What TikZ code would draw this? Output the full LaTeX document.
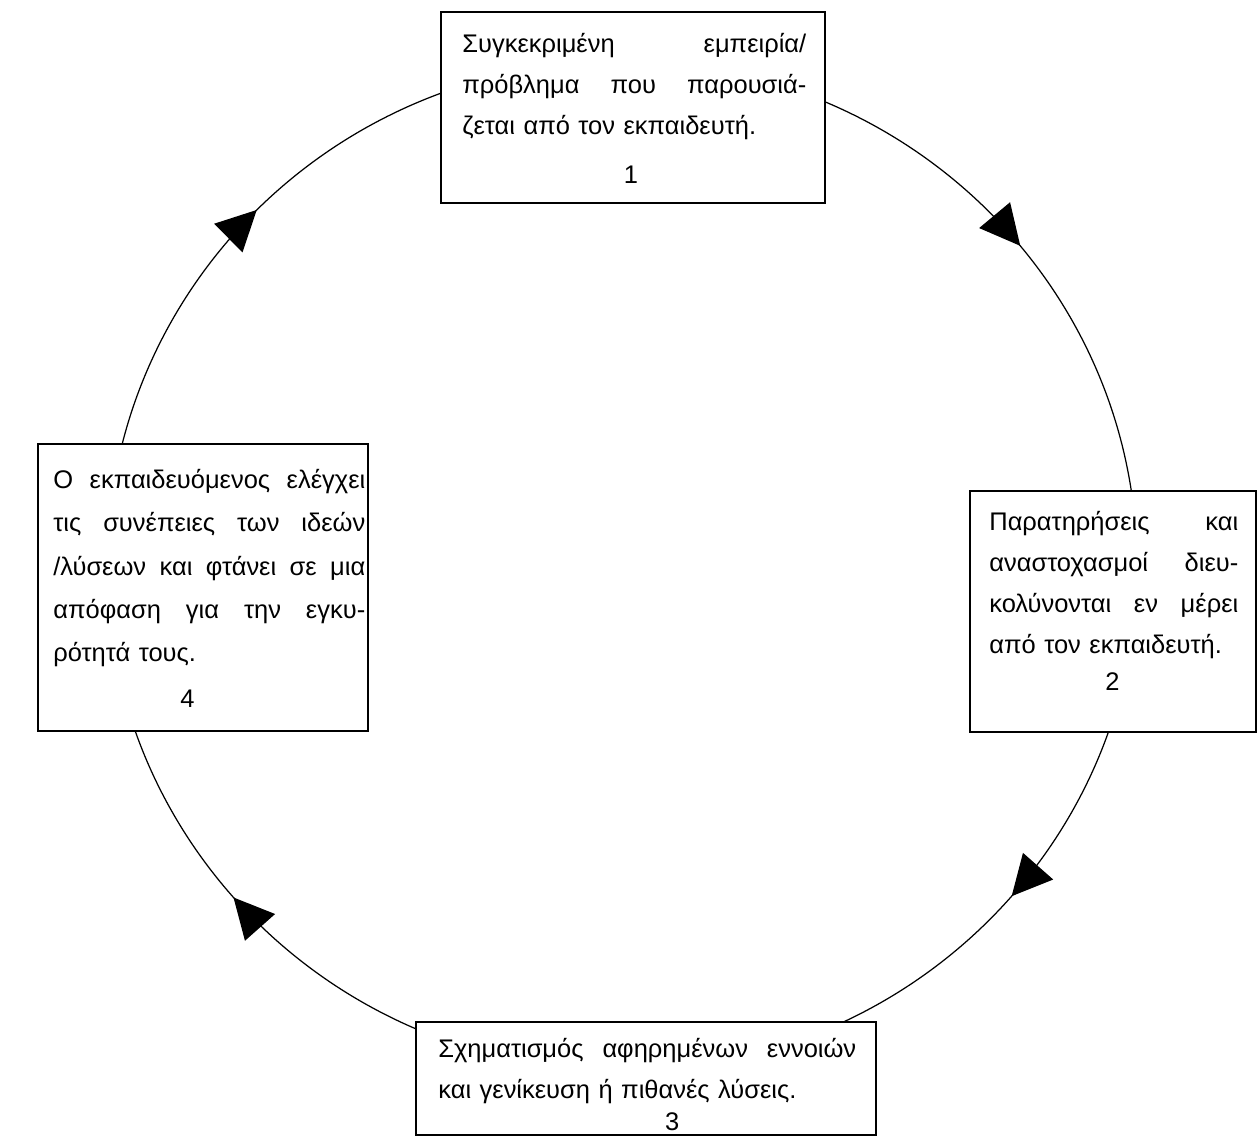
\documentclass[tikz,border=0pt]{standalone}
\usepackage{fontspec}
\setmainfont{Liberation Sans}
\usetikzlibrary{arrows.meta,decorations.markings,backgrounds,fit}
% a justified line: words separated by \hfill, spread over a given width
\newcommand\justline[2]{\leavevmode\hbox to #1{#2}}
\begin{document}
\begin{tikzpicture}[x=0.02cm,y=0.02cm,
  box/.style={draw, line width=0.9pt, fill=white, inner sep=0pt, rectangle},
  txt/.style={anchor=north west, inner sep=0pt, align=left,
    font=\fontsize{14.5}{23.2}\selectfont},
  cyc/.style={line width=0.7pt, postaction={decorate}},
  tipat/.style={decoration={markings,
    mark=at position #1 with {\arrow{Triangle[length=0.8cm,width=0.8cm]}}}}
]
\useasboundingbox (0,0) rectangle (1257,1136);

% boxes
\node[box, fit={(441,933) (825,1124)}] (b1) {};
\node[box, fit={(970,404) (1256,645)}] (b2) {};
\node[box, fit={(416,1) (876,114)}] (b3) {};
\node[box, fit={(38,405) (368,692)}] (b4) {};

% texts
\node[txt, text width=6.88cm] (t1) at (462,1112) {\strut\justline{6.88cm}{Συγκεκριμένη\hfill εμπειρία/}\\
  \justline{6.88cm}{πρόβλημα\hfill που\hfill παρουσιά-}\\
  ζεται από τον εκπαιδευτή.\\[5pt]
  \hspace*{92pt}1};
\node[txt, text width=4.98cm] (t2) at (989,634) {\strut\justline{4.98cm}{Παρατηρήσεις\hfill και}\\
  \justline{4.98cm}{αναστοχασμοί\hfill διευ-}\\
  \justline{4.98cm}{κολύνονται\hfill εν\hfill μέρει}\\
  από τον εκπαιδευτή.\\[-2pt]
  \hspace*{66pt}2};
\node[txt, text width=8.36cm] (t3) at (438,107) {\strut\justline{8.36cm}{Σχηματισμός\hfill αφηρημένων\hfill εννοιών}\\
  και γενίκευση ή πιθανές λύσεις.\\[-5pt]
  \hspace*{129pt}3};
\node[txt, text width=6.24cm, font=\fontsize{14.5}{24.6}\selectfont] (t4) at (53,678) {\strut\justline{6.24cm}{Ο\hfill εκπαιδευόμενος\hfill ελέγχει}\\
  \justline{6.24cm}{τις\hfill συνέπειες\hfill των\hfill ιδεών}\\
  \justline{6.24cm}{/λύσεων\hfill και\hfill φτάνει\hfill σε\hfill μια}\\
  \justline{6.24cm}{απόφαση\hfill για\hfill την\hfill εγκυ-}\\
  ρότητά τους.\\[1.5pt]
  \hspace*{72.3pt}4};

% cycle arcs (ellipse centre O, radii 515 x 505)
\coordinate (O) at (622,570);
\begin{scope}[on background layer]
  \draw[cyc, tipat=0.511] (O) ++(80:515 and 505) coordinate (a1)
    arc[start angle=80, end angle=0, x radius=515, y radius=505];
  \draw[cyc, tipat=0.475] (O) ++(-5:515 and 505) coordinate (a2)
    arc[start angle=-5, end angle=-80, x radius=515, y radius=505];
  \draw[cyc, tipat=0.49] (O) ++(-100:515 and 505) coordinate (a3)
    arc[start angle=-100, end angle=-180, x radius=515, y radius=505];
  \draw[cyc, tipat=0.5575] (O) ++(180:515 and 505) coordinate (a4)
    arc[start angle=180, end angle=100, x radius=515, y radius=505];
\end{scope}
\end{tikzpicture}
\end{document}
